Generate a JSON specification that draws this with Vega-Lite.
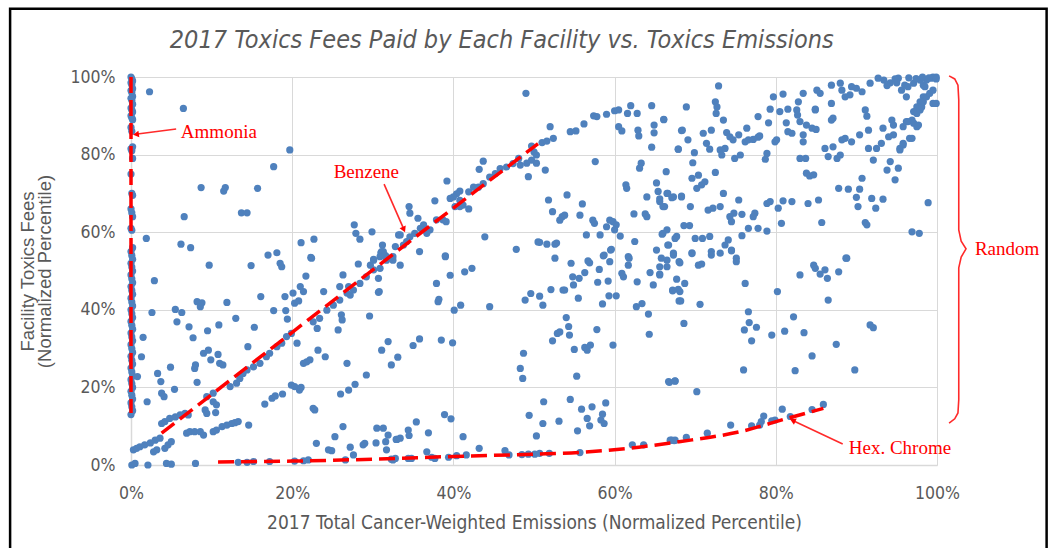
{
"$schema":"https://vega.github.io/schema/vega-lite/v6.json",
"autosize":{"type":"none"},
"width":806,"height":388,
"padding":{"left":131,"top":77,"right":111,"bottom":83},
"background":"white",
"config":{"view":{"stroke":null},"axis":{"gridColor":"#d9d9d9","domainColor":"#d9d9d9","domainWidth":1.5,"ticks":false,"labelFlush":false,"labelColor":"#595959","titleColor":"#595959","labelFont":"'Liberation Sans Narrow', 'DejaVu Sans Condensed', sans-serif","labelFontSize":17.5,"titleFontWeight":"normal"}},
"datasets":{
"pts":[
{"x":0,"y":100},{"x":0.1,"y":99.5},{"x":0.2,"y":99},{"x":0,"y":98.5},{"x":0.1,"y":98},{"x":0.2,"y":97},{"x":0,"y":96.5},{"x":0.1,"y":96},{"x":0.2,"y":95},{"x":0,"y":94.5},{"x":0.1,"y":94},{"x":0.2,"y":93},{"x":0,"y":92},{"x":0.1,"y":91.5},{"x":0.2,"y":91},{"x":0,"y":90},{"x":0.1,"y":89.5},{"x":0.2,"y":89},{"x":0,"y":87},{"x":0.1,"y":86},{"x":0.2,"y":82},{"x":0,"y":81.5},{"x":0.1,"y":81},{"x":0.2,"y":79},{"x":0,"y":75},{"x":0.1,"y":70},{"x":0.2,"y":69.5},{"x":0,"y":66},{"x":0.1,"y":65},{"x":0.2,"y":64},{"x":0,"y":61},{"x":0.1,"y":60.5},{"x":0.2,"y":56},{"x":0,"y":55},{"x":0.1,"y":54},{"x":0.2,"y":53},{"x":0,"y":52},{"x":0.1,"y":51},{"x":0.2,"y":50},{"x":0,"y":49},{"x":0.1,"y":48},{"x":0.2,"y":47},{"x":0,"y":46},{"x":0.1,"y":45},{"x":0.2,"y":44},{"x":0,"y":43},{"x":0.1,"y":42},{"x":0.2,"y":41},{"x":0,"y":40},{"x":0.1,"y":39},{"x":0.2,"y":38},{"x":0,"y":37},{"x":0.1,"y":36},{"x":0.2,"y":35},{"x":0,"y":34},{"x":0.1,"y":33},{"x":0.2,"y":32},{"x":0,"y":31},{"x":0.1,"y":30},{"x":0.2,"y":29},{"x":0,"y":28},{"x":0.1,"y":27},{"x":0.2,"y":26},{"x":0,"y":25},{"x":0.1,"y":24},{"x":0.2,"y":23},{"x":0,"y":22},{"x":0.1,"y":21},{"x":0.2,"y":20},{"x":0,"y":19},{"x":0.1,"y":18},{"x":0.2,"y":17},{"x":0,"y":16},{"x":0.1,"y":15},{"x":0.2,"y":14},{"x":0,"y":13},
{"x":2.3,"y":96.2},{"x":6.5,"y":91.9},{"x":19.7,"y":81.2},{"x":17.7,"y":76.9},{"x":8.7,"y":71.5},{"x":11.5,"y":70.6},{"x":11.7,"y":71.5},{"x":15.7,"y":71.3},{"x":13.7,"y":65},{"x":14.4,"y":65},{"x":6.6,"y":64},{"x":1.9,"y":58.4},{"x":6.2,"y":56.9},{"x":7.4,"y":56},{"x":27.7,"y":61.9},{"x":27.9,"y":59.7},{"x":28.4,"y":58.2},{"x":29.9,"y":60.1},{"x":21.1,"y":57.3},{"x":22.7,"y":58.2},{"x":31.2,"y":56.7},{"x":31,"y":54.7},{"x":31.5,"y":54.1},{"x":33.2,"y":59.3},{"x":17,"y":54.1},{"x":18.1,"y":54.7},{"x":22.3,"y":53.5},{"x":30.1,"y":53},
{"x":18.5,"y":52},{"x":18.7,"y":51.1},{"x":9.7,"y":51.5},{"x":14.9,"y":51.4},{"x":22.4,"y":53.3},{"x":2.9,"y":47.5},{"x":21,"y":46},{"x":21.4,"y":44.7},{"x":21.7,"y":48.7},{"x":20.1,"y":44.3},{"x":20.3,"y":41.7},{"x":20.8,"y":42.3},{"x":23.9,"y":44.7},{"x":25.9,"y":46},{"x":26.3,"y":49},{"x":27,"y":46},{"x":27.2,"y":43.8},{"x":28.2,"y":51.8},{"x":29.7,"y":51.5},{"x":30.1,"y":52.8},{"x":30.7,"y":48.1},{"x":30.8,"y":44.7},{"x":31.1,"y":55},{"x":31.7,"y":53.7},{"x":32.5,"y":52.8},{"x":33.4,"y":51.5},{"x":2.6,"y":39.3},{"x":5.5,"y":40.1},{"x":5.7,"y":36.9},{"x":6.3,"y":39.3},{"x":7.2,"y":35.6},{"x":7.7,"y":32.8},{"x":1.5,"y":32.9},{"x":1.3,"y":27.9},{"x":0.8,"y":22.8},{"x":2,"y":16.3},{"x":3.3,"y":23.6},{"x":3.7,"y":21.5},{"x":3.8,"y":18.5},{"x":4.1,"y":17.6},{"x":4.9,"y":25.2},{"x":5.4,"y":19.5},{"x":8.2,"y":42.1},{"x":8.6,"y":40.8},{"x":8.8,"y":41.8},{"x":8,"y":25.8},{"x":7.9,"y":24.9},{"x":8.2,"y":21.3},{"x":9.5,"y":34.6},{"x":9,"y":28.8},{"x":9.6,"y":29.6},{"x":9.9,"y":27.1},{"x":10.8,"y":28.5},{"x":11,"y":26.2},{"x":11.4,"y":25.8},{"x":10.9,"y":36.1},{"x":11.9,"y":41.9},{"x":13,"y":37.8},{"x":14.5,"y":30.5},{"x":15.3,"y":35.5},{"x":16.1,"y":43.4},{"x":17.7,"y":39.8},{"x":19.1,"y":43.4},{"x":19.2,"y":39.8},{"x":19.4,"y":37.6},{"x":20.6,"y":31.4},{"x":23.2,"y":29.6},{"x":24.1,"y":27.9},{"x":21.4,"y":26.2},{"x":21.8,"y":26.6},{"x":22.2,"y":27.1},{"x":23.1,"y":35.2},{"x":25.7,"y":34.8},{"x":26.1,"y":38.7},{"x":26.2,"y":37.4},{"x":26.8,"y":26.2},{"x":29.6,"y":38.4},{"x":30.7,"y":44.5},{"x":31.1,"y":29.6},{"x":31.9,"y":31.8},{"x":32.3,"y":25.8},{"x":33.1,"y":27.8},{"x":29.2,"y":23.2},{"x":26,"y":18.3},{"x":27,"y":19.3},{"x":27.8,"y":20.8},{"x":19.9,"y":20.6},{"x":20.3,"y":20.2},{"x":20.9,"y":19.3},{"x":21.1,"y":20},{"x":22.6,"y":14.6},{"x":22.8,"y":14.2},{"x":16.6,"y":15.7},{"x":17.5,"y":17.2},{"x":17.9,"y":17.8},{"x":18.8,"y":18.3},
{"x":0.3,"y":3.9},{"x":0.7,"y":4.3},{"x":1.1,"y":4.7},{"x":1.7,"y":5.2},{"x":2.4,"y":5.7},{"x":3,"y":6.4},{"x":3.6,"y":6.9},{"x":3.8,"y":10.7},{"x":4.2,"y":11.2},{"x":4.8,"y":12},{"x":5.5,"y":12.4},{"x":6.1,"y":12.9},{"x":6.7,"y":13.3},{"x":7.1,"y":12.9},{"x":2.8,"y":3.4},{"x":3.2,"y":3.9},{"x":4.2,"y":4.3},{"x":4.6,"y":5.2},{"x":5,"y":6},{"x":6.9,"y":8.2},{"x":7.3,"y":8.6},{"x":7.9,"y":8.6},{"x":8.6,"y":8.6},{"x":9,"y":7.7},{"x":10.2,"y":8.6},{"x":10.6,"y":9},{"x":11.3,"y":9.9},{"x":11.9,"y":10.3},{"x":12.5,"y":10.7},{"x":12.9,"y":10.9},{"x":13.3,"y":11.2},{"x":14.6,"y":10.3},{"x":9.2,"y":14.2},{"x":9.4,"y":13.3},{"x":10.2,"y":16.3},{"x":10.6,"y":15.5},{"x":10.5,"y":13.5},
{"x":9.4,"y":17.6},{"x":10.2,"y":18.5},{"x":12.3,"y":20.2},{"x":13.1,"y":21.1},{"x":13.5,"y":22.3},{"x":13.9,"y":23.6},{"x":14.4,"y":24.5},{"x":15.2,"y":25.3},{"x":16,"y":26.2},{"x":16.8,"y":27.9},{"x":17.2,"y":28.8},{"x":18.1,"y":30.5},{"x":18.7,"y":31.4},{"x":19.3,"y":33.1},{"x":19.9,"y":33.9},{"x":22.6,"y":36.9},{"x":23.4,"y":37.8},{"x":24.3,"y":39.9},{"x":25.1,"y":41.2},{"x":25.9,"y":42.5},{"x":26.8,"y":44.3},{"x":27.6,"y":45.1},{"x":28.4,"y":46.8},{"x":29.2,"y":48.5},{"x":30.1,"y":50.3},{"x":30.9,"y":50.7},{"x":31.7,"y":52.8},{"x":32.5,"y":53.7},
{"x":0.1,"y":0},{"x":0.5,"y":0.4},{"x":2.1,"y":0},{"x":4.4,"y":0.4},{"x":5,"y":0.2},{"x":8,"y":0.4},{"x":13.3,"y":0.7},{"x":14.4,"y":0.7},{"x":15.2,"y":0.9},{"x":17.2,"y":0.9},{"x":20.3,"y":1},{"x":21.4,"y":1.1},{"x":22,"y":1.3},{"x":26.6,"y":1.3},{"x":32.5,"y":1.3},{"x":23,"y":5.6},{"x":24.5,"y":3.9},{"x":24.9,"y":3.7},{"x":25.3,"y":7.3},{"x":26.3,"y":9.9},{"x":27.2,"y":4.6},{"x":27.6,"y":2.6},{"x":28.8,"y":5.2},{"x":29,"y":5.6},{"x":30.4,"y":5.7},{"x":30.5,"y":9.5},{"x":31.3,"y":9.5},{"x":31.6,"y":6},{"x":31.7,"y":3.9},{"x":31.9,"y":7.7},{"x":33,"y":6.6},
{"x":49,"y":95.8},{"x":52,"y":87.2},{"x":54.5,"y":85.9},{"x":55.2,"y":86.1},{"x":56.2,"y":87.9},{"x":57.4,"y":90},{"x":57.8,"y":89.8},{"x":59,"y":90.4},{"x":60,"y":91.3},{"x":60.5,"y":91.5},{"x":61.6,"y":90.6},{"x":62,"y":92.6},{"x":62.8,"y":90.6},{"x":64.6,"y":92.6},{"x":64.9,"y":87.6},{"x":66.1,"y":89},{"x":67.9,"y":81.4},{"x":68.3,"y":86.2},{"x":60.5,"y":87.2},{"x":60.9,"y":86.1},{"x":62.9,"y":86.3},{"x":63,"y":84.8},{"x":64.9,"y":85.6},{"x":64.6,"y":81.9},{"x":51,"y":83.1},{"x":51.6,"y":83.5},{"x":52.4,"y":84.2},{"x":49.7,"y":82.2},{"x":50,"y":80.7},{"x":50.3,"y":79.9},{"x":49.7,"y":78.6},{"x":49.1,"y":77.8},{"x":50.3,"y":77.8},{"x":51.4,"y":76},{"x":49.3,"y":74.3},{"x":57.6,"y":78.2},
{"x":48.1,"y":79},{"x":48.3,"y":77.3},{"x":47.4,"y":77.7},{"x":46.6,"y":76.8},{"x":45.8,"y":76.4},{"x":45.2,"y":75.1},{"x":44.5,"y":74.2},{"x":43.7,"y":78.3},{"x":43.2,"y":76.2},{"x":43.7,"y":72.5},{"x":43.1,"y":71.6},{"x":42.5,"y":71.6},{"x":41.9,"y":70.4},{"x":40.8,"y":70.6},{"x":40.4,"y":69.9},{"x":40,"y":69.1},{"x":39.2,"y":73.2},{"x":39.6,"y":68.7},{"x":40.2,"y":66.6},{"x":40.8,"y":66.6},{"x":41.2,"y":67},{"x":41.9,"y":66},{"x":40.8,"y":68.2},
{"x":37.7,"y":68.1},{"x":34.5,"y":66.6},{"x":34.6,"y":64.9},{"x":35.6,"y":63.6},{"x":36.3,"y":61.9},{"x":37.1,"y":60.6},{"x":37.9,"y":63.2},{"x":38.7,"y":63.2},{"x":39.1,"y":62.7},{"x":36.7,"y":59.7},{"x":35.2,"y":59.7},{"x":35.9,"y":61},{"x":33.4,"y":59.3},{"x":34.2,"y":57.6},{"x":34.6,"y":58.8},{"x":33.8,"y":56.7},{"x":32.8,"y":56.3},{"x":31.3,"y":55},{"x":30.9,"y":53.7},{"x":35.8,"y":55},{"x":39,"y":53.9},{"x":43.9,"y":58.8},{"x":47.8,"y":55.6},{"x":50.5,"y":57.5},{"x":51.6,"y":56.9},{"x":52.6,"y":56.9},{"x":52.8,"y":57.2},
{"x":51.8,"y":68.3},{"x":52.3,"y":65.3},{"x":53.2,"y":63.1},{"x":53.5,"y":64},{"x":53.8,"y":64.4},{"x":54.1,"y":69.6},{"x":56,"y":67.3},{"x":55.7,"y":64.4},{"x":56.5,"y":59.3},{"x":57.3,"y":63.1},{"x":57.5,"y":62.3},{"x":58.2,"y":59.3},{"x":59.4,"y":63.1},{"x":59.8,"y":62.7},{"x":60.2,"y":61.9},{"x":60,"y":60.6},{"x":60.7,"y":59},{"x":59,"y":61.4},{"x":61.7,"y":53.7},{"x":62.5,"y":57.6},{"x":62.4,"y":64.7},{"x":64,"y":64},{"x":63.8,"y":64.7},{"x":64,"y":69.1},{"x":61.4,"y":72.2},{"x":61.5,"y":71.3},{"x":63.3,"y":77.8},{"x":63.1,"y":76.5},{"x":65.2,"y":72.7},{"x":65.4,"y":70.5},{"x":65.6,"y":67.9},{"x":66.2,"y":66.6},{"x":66.4,"y":75.6},{"x":66.6,"y":70},{"x":67.3,"y":69.1},{"x":68.3,"y":69.1},{"x":65.9,"y":59.5},{"x":65.2,"y":55.4},{"x":66.6,"y":56.7},{"x":67.3,"y":54.6},{"x":67.7,"y":58.9},{"x":59.6,"y":55.6},{"x":58.6,"y":53.9},{"x":56.7,"y":52.6},{"x":50.7,"y":57.4},
{"x":39,"y":53.7},{"x":39.6,"y":48.9},{"x":41.4,"y":49.8},{"x":42.3,"y":50.7},{"x":37.9,"y":46.8},{"x":38.2,"y":42.7},{"x":38.1,"y":42.1},{"x":40.1,"y":39.9},{"x":40.9,"y":41.2},{"x":44.5,"y":40.8},
{"x":52.6,"y":53.3},{"x":54.6,"y":52},{"x":56.9,"y":52.1},{"x":58.1,"y":50.4},{"x":58.7,"y":54.1},{"x":59.4,"y":52.4},{"x":59.5,"y":55.4},{"x":61.8,"y":53.3},{"x":61.7,"y":51.5},{"x":60.9,"y":49.4},{"x":61.1,"y":48.5},{"x":62.8,"y":47.2},{"x":64.4,"y":49.6},{"x":64.8,"y":46.4},{"x":65.6,"y":49.2},{"x":66.5,"y":51.1},{"x":67.3,"y":54.1},{"x":68,"y":52.4},{"x":67.7,"y":47.9},{"x":67.2,"y":45.1},{"x":68.1,"y":44.7},{"x":68,"y":42.3},
{"x":54.8,"y":48.5},{"x":54.9,"y":46.4},{"x":55.6,"y":48.1},{"x":56.3,"y":49.6},{"x":53.8,"y":45.1},{"x":53.6,"y":45.1},{"x":52.1,"y":45.2},{"x":50.7,"y":43.5},{"x":51.1,"y":41.2},{"x":49.6,"y":44.2},{"x":48.9,"y":42.5},{"x":55.5,"y":43},{"x":57.9,"y":47.1},{"x":59.2,"y":47.4},{"x":58.5,"y":41.5},{"x":59.3,"y":43.6},{"x":60.2,"y":43.6},{"x":62.7,"y":40.8},{"x":63.4,"y":41.6},{"x":64.2,"y":38.9},{"x":64.3,"y":33.7},
{"x":54,"y":38},{"x":54.3,"y":35.7},{"x":53.2,"y":34.3},{"x":52.9,"y":33.9},{"x":52.3,"y":32},{"x":54.4,"y":33.5},{"x":55,"y":29.8},{"x":56.3,"y":30.3},{"x":56.6,"y":29.6},{"x":57,"y":30.9},{"x":57.8,"y":34.9},{"x":59.8,"y":30.9},{"x":48.7,"y":28.8},{"x":48.3,"y":24.9},{"x":48.6,"y":22.3},{"x":55.3,"y":22.9},{"x":35,"y":30.8},{"x":35.8,"y":32.5},{"x":38.5,"y":32.2},{"x":39.9,"y":31.5},{"x":66.7,"y":21.5},{"x":67.5,"y":21.7},
{"x":32.9,"y":6.6},{"x":33.4,"y":6.9},{"x":34.4,"y":9},{"x":34.5,"y":7.6},{"x":35.4,"y":11.1},{"x":36.9,"y":8.3},{"x":38.9,"y":13},{"x":39.7,"y":11.9},{"x":41.2,"y":7.3},{"x":43.2,"y":4.3},{"x":36.7,"y":3.4},{"x":37.3,"y":2},{"x":37.7,"y":1.7},{"x":39.4,"y":2},{"x":40.4,"y":2.4},{"x":41.6,"y":2.6},{"x":32.3,"y":1.5},{"x":32.8,"y":1.7},{"x":34.4,"y":1.7},{"x":34.8,"y":1.7},{"x":46.4,"y":3.7},{"x":46.9,"y":2.6},{"x":48.5,"y":2.7},{"x":49.3,"y":2.8},{"x":50.1,"y":2.8},{"x":50.7,"y":3},{"x":51.9,"y":3},{"x":49.4,"y":12.8},{"x":50.3,"y":7.5},{"x":51.1,"y":10.7},{"x":51.2,"y":16.3},{"x":53.1,"y":11.3},{"x":54.5,"y":16.9},{"x":55.4,"y":8.8},{"x":55.9,"y":14.4},{"x":56.6,"y":12},{"x":56.9,"y":10.1},{"x":57.2,"y":15},{"x":58.3,"y":11.6},{"x":58.5,"y":13.1},{"x":58.7,"y":10.7},{"x":58.9,"y":16},{"x":55.7,"y":3.2},{"x":62.2,"y":5.2},{"x":63.6,"y":5.2},{"x":66.9,"y":6.4},{"x":67.5,"y":6.4},
{"x":72.9,"y":97.7},{"x":68.9,"y":92.3},{"x":66.1,"y":89.1},{"x":72.5,"y":93.6},{"x":72.7,"y":92.3},{"x":72.6,"y":90.6},{"x":73.5,"y":88.9},{"x":68.4,"y":86.3},{"x":69.1,"y":83.8},{"x":67.9,"y":81.4},{"x":69.9,"y":80.5},{"x":69.7,"y":77.9},{"x":69.6,"y":73.9},{"x":70.4,"y":74.7},{"x":70.2,"y":71.3},{"x":70.8,"y":72.2},{"x":71.2,"y":73},{"x":72.5,"y":75.4},{"x":73.5,"y":70},{"x":68.3,"y":69.3},{"x":66.5,"y":70},{"x":67.1,"y":68.9},{"x":65.6,"y":68.6},{"x":66,"y":66.6},{"x":69.4,"y":66.6},
{"x":71,"y":85.5},{"x":72,"y":86.3},{"x":71.4,"y":82.9},{"x":71.8,"y":81.4},{"x":73.1,"y":81.2},{"x":73.7,"y":81.6},{"x":73.3,"y":79.9},{"x":73.9,"y":85.7},{"x":74.3,"y":84.6},{"x":75.4,"y":85.1},{"x":74.7,"y":83.8},{"x":74.9,"y":79},{"x":75.6,"y":79.9},{"x":76.2,"y":83.3},{"x":76.6,"y":83.8},{"x":77.2,"y":83.9},{"x":77.8,"y":84.5},{"x":78,"y":84.8},{"x":76.4,"y":86.8},{"x":77.8,"y":89.8},{"x":79.1,"y":88.2},{"x":79.3,"y":91.7},{"x":79.9,"y":83.3},{"x":80.1,"y":83.8},{"x":78.9,"y":80.3},{"x":78.7,"y":78.8},{"x":79.7,"y":94.9},{"x":80.9,"y":95.6},{"x":80.5,"y":91.1},{"x":81.3,"y":88.2},{"x":81.5,"y":85.9},{"x":82,"y":85.5},{"x":81.5,"y":91.7},{"x":82.6,"y":91.5},{"x":82.7,"y":90.2},{"x":83,"y":88.5},{"x":83.4,"y":95.8},{"x":82.8,"y":93.6},{"x":83.8,"y":87.6},{"x":84.5,"y":86.8},{"x":85,"y":86.5},{"x":84.9,"y":91.7},{"x":85.1,"y":96.6},{"x":85.5,"y":95.8},{"x":86.9,"y":97.9},{"x":88,"y":98.4},{"x":88.2,"y":96.6},{"x":88.6,"y":94.9},{"x":89.2,"y":95.4},{"x":89.4,"y":97.5},{"x":90,"y":97.1},{"x":90.7,"y":96.2},{"x":91.7,"y":98.4},{"x":92.7,"y":99.7},{"x":93.4,"y":99.2},{"x":94.2,"y":98.5},{"x":95.2,"y":99.7},{"x":95.6,"y":96.6},{"x":96,"y":97.9},{"x":96.4,"y":97.5},{"x":96.2,"y":94.9},{"x":97.1,"y":98.4},{"x":97.9,"y":99.2},{"x":98.3,"y":97.9},{"x":98.7,"y":99.2},{"x":99.3,"y":99.7},{"x":99.9,"y":100},{"x":99.5,"y":93.2},{"x":98.3,"y":94.9},{"x":97.9,"y":93.6},{"x":97.5,"y":92.3},{"x":97.1,"y":91.1},{"x":96.9,"y":88.9},{"x":97.5,"y":87.2},{"x":96.4,"y":88.5},{"x":95.8,"y":87.2},{"x":94.6,"y":87.6},{"x":94.4,"y":88.9},{"x":93.3,"y":86.8},{"x":93.1,"y":82.9},{"x":92.5,"y":81.6},{"x":92.1,"y":78.6},{"x":93.8,"y":76},{"x":94.2,"y":78.2},{"x":94.8,"y":73.5},{"x":95.2,"y":76.5},{"x":95.4,"y":81.6},{"x":95.8,"y":82.9},{"x":96.6,"y":84.2},{"x":94.6,"y":85.1},{"x":94,"y":84.6},{"x":91.1,"y":91.5},{"x":91.3,"y":89.9},{"x":91.5,"y":86.3},{"x":90.4,"y":85.1},{"x":91.5,"y":81.6},{"x":89.4,"y":83.3},{"x":88.6,"y":84.2},{"x":88.2,"y":83.8},{"x":87.1,"y":82},{"x":86.1,"y":81.6},{"x":86.5,"y":79.5},{"x":87.6,"y":79},{"x":88,"y":79.9},{"x":86.9,"y":88.9},{"x":87.1,"y":89.4},{"x":86.9,"y":93.2},{"x":84.9,"y":91.5},{"x":83.4,"y":85.1},{"x":83.4,"y":83.3},{"x":83,"y":79},{"x":83.7,"y":79},{"x":83.8,"y":75.2},{"x":84.2,"y":74.5},{"x":84.7,"y":74.8},{"x":90.7,"y":73.9},{"x":90.4,"y":71.1},{"x":89,"y":71.1},{"x":87.8,"y":71.3},{"x":90,"y":69},{"x":90.2,"y":66.6},{"x":91.9,"y":68.7},{"x":92.4,"y":66.2},{"x":93.3,"y":68.5},{"x":91.1,"y":62.5},{"x":91.3,"y":61.9},{"x":96.9,"y":60.1},{"x":97.8,"y":59.7},{"x":98.9,"y":67.6},{"x":88.8,"y":53.3},{"x":85.7,"y":62.5},{"x":85.3,"y":68.3},{"x":84,"y":67.4},{"x":82,"y":67.9},{"x":80.9,"y":68.1},{"x":80.3,"y":66.2},{"x":80.7,"y":62.3},{"x":78.9,"y":67.4},{"x":79.3,"y":67.9},{"x":77.8,"y":61},{"x":78.9,"y":60.3},{"x":77.4,"y":64.9},{"x":77.2,"y":64},{"x":76.6,"y":61},{"x":75.8,"y":59.1},{"x":75.4,"y":68.3},{"x":74.8,"y":64.9},{"x":74.3,"y":64},{"x":74.5,"y":62.7},{"x":75.8,"y":64.6},{"x":72.2,"y":66.2},{"x":73.1,"y":66.6},{"x":71.6,"y":65.7},{"x":68.6,"y":61.7},{"x":69.3,"y":61.7},{"x":70,"y":58.4},{"x":70.9,"y":58.4},{"x":71.8,"y":58.9},{"x":66.5,"y":60.6},{"x":66,"y":59.7},{"x":66.7,"y":56.7},{"x":67.5,"y":58.4},{"x":69.6,"y":54.7},{"x":72,"y":55},{"x":73.1,"y":54.6},{"x":73.7,"y":56.7},{"x":74.1,"y":58},{"x":74.5,"y":55.4},{"x":75.1,"y":53.3},{"x":65.8,"y":53.3},
{"x":65.6,"y":51.1},{"x":66.5,"y":52.8},{"x":68.1,"y":52.1},{"x":69.6,"y":54.5},{"x":70.4,"y":51.5},{"x":70.8,"y":51.8},{"x":72,"y":54.1},{"x":74.5,"y":55.2},{"x":75.1,"y":52.4},{"x":65.6,"y":49},{"x":68.7,"y":46.8},{"x":67.9,"y":45.3},{"x":67.2,"y":44.9},{"x":68.2,"y":42.3},{"x":70.6,"y":41.4},{"x":68.6,"y":36.5},{"x":76.2,"y":46.8},{"x":76.6,"y":39.5},{"x":76.7,"y":36.7},{"x":76.1,"y":34.8},{"x":77,"y":32},{"x":77.6,"y":35.5},{"x":79.5,"y":33.5},{"x":80.2,"y":44.7},{"x":81.1,"y":34.5},{"x":82.2,"y":38.2},{"x":83,"y":49},{"x":83.5,"y":34.1},{"x":84.5,"y":28.1},{"x":82.4,"y":24.3},{"x":76,"y":24.5},{"x":84.7,"y":51.5},{"x":84.9,"y":50.7},{"x":85.5,"y":49.2},{"x":86.1,"y":50.3},{"x":86.4,"y":48.1},{"x":87.8,"y":49.8},{"x":88.7,"y":53.3},{"x":86.5,"y":42.5},{"x":87.5,"y":31.1},{"x":89.8,"y":24.5},{"x":91.7,"y":36.1},{"x":92.1,"y":35.4},{"x":66.8,"y":21.3},{"x":67.5,"y":21.6},{"x":70.2,"y":18.9},
{"x":74.4,"y":10.3},{"x":77,"y":10.1},{"x":78.2,"y":11.2},{"x":78.5,"y":12.6},{"x":78,"y":10.3},{"x":79.5,"y":11.4},{"x":79.9,"y":11.6},{"x":80.8,"y":14.4},{"x":81.8,"y":12.5},{"x":84.5,"y":14.3},{"x":85.9,"y":15.6},{"x":67.1,"y":6.4},{"x":67.4,"y":6.3},{"x":68.9,"y":7.1},{"x":71.5,"y":8.2},
{"x":96.2,"y":88.5},{"x":97.1,"y":88.1},{"x":97.7,"y":87.6},{"x":96.9,"y":84.2},{"x":95.8,"y":82.5},{"x":95.4,"y":81.2},{"x":97.5,"y":90.6},{"x":97.9,"y":91.5},{"x":98.1,"y":92.3},{"x":98.3,"y":93.6},{"x":98.7,"y":94.9},{"x":99.1,"y":95.8},{"x":99.5,"y":96.6},{"x":99.9,"y":93.2},{"x":98.5,"y":97.5},{"x":99.5,"y":100},{"x":99.9,"y":99.5},{"x":94.8,"y":99.5},{"x":96.5,"y":99.8},{"x":97.4,"y":99.6},{"x":98.2,"y":100},{"x":99,"y":99.8},{"x":93.8,"y":97.8},{"x":95,"y":98.5}
],
"dash":[
{"s":"amm","o":1,"x":0,"y":100},{"s":"amm","o":2,"x":0,"y":13.4},
{"s":"ben","o":1,"x":3.8,"y":8.2},{"s":"ben","o":2,"x":20,"y":34.2},{"s":"ben","o":3,"x":35,"y":58.3},{"s":"ben","o":4,"x":50.5,"y":82.8},
{"s":"hex","o":1,"x":10.8,"y":0.8},{"s":"hex","o":2,"x":20,"y":1},{"s":"hex","o":3,"x":30,"y":1.5},{"s":"hex","o":4,"x":40,"y":2.2},{"s":"hex","o":5,"x":50,"y":2.8},{"s":"hex","o":6,"x":56,"y":3.3},{"s":"hex","o":7,"x":63,"y":4.6},{"s":"hex","o":8,"x":68,"y":6},{"s":"hex","o":9,"x":75.6,"y":8.6},{"s":"hex","o":10,"x":81.4,"y":12},{"s":"hex","o":11,"x":85.9,"y":14.6}
],
"thin":[
{"s":"a","o":1,"x":5.6,"y":86.6},{"s":"a","o":2,"x":0.8,"y":85.3},
{"s":"b","o":1,"x":31.4,"y":72.4},{"s":"b","o":2,"x":33.8,"y":61},
{"s":"h","o":1,"x":88.3,"y":5.4},{"s":"h","o":2,"x":82.3,"y":11.3},
{"s":"r","o":1,"x":101.5,"y":100.3},{"s":"r","o":2,"x":102.2,"y":99.5},{"s":"r","o":3,"x":102.6,"y":97.9},{"s":"r","o":4,"x":102.7,"y":94.1},{"s":"r","o":5,"x":102.7,"y":60.6},{"s":"r","o":6,"x":103,"y":57.7},{"s":"r","o":7,"x":103.6,"y":55.7},{"s":"r","o":8,"x":103,"y":53.6},{"s":"r","o":9,"x":102.7,"y":50.8},{"s":"r","o":10,"x":102.7,"y":16.8},{"s":"r","o":11,"x":102.6,"y":13.4},{"s":"r","o":12,"x":102.2,"y":11.9},{"s":"r","o":13,"x":101.5,"y":10.8}
],
"heads":[
{"x":0.62,"y":85.2,"a":352,"sh":"triangle-left"},
{"x":33.85,"y":60.7,"a":336,"sh":"triangle-down"},
{"x":82.1,"y":11.5,"a":25,"sh":"triangle-left"}
],
"labels":[
{"t":"Ammonia","x":10.9,"y":85.8},
{"t":"Benzene","x":29.2,"y":75.5},
{"t":"Random","x":108.7,"y":55.7},
{"t":"Hex. Chrome","x":95.4,"y":4.4}
],
"ttl":[{"t":"2017 Toxics Fees Paid by Each Facility vs. Toxics Emissions","x":46.0,"y":109.5}],
"frame":[{"x1":-15.0,"x2":113.6,"y1":117.6,"y2":-25}]
},
"layer":[
{"data":{"name":"frame"},"mark":{"type":"rect","fill":null,"stroke":"black","strokeWidth":2.5},
 "encoding":{"x":{"field":"x1","type":"quantitative","scale":{"domain":[0,100],"nice":false,"zero":false},
   "axis":{"title":"2017 Total Cancer-Weighted Emissions (Normalized Percentile)","values":[0,20,40,60,80,100],"labelExpr":"datum.value + '%'","labelPadding":19,"titlePadding":12,"titleFont":"'Liberation Sans Narrow', 'DejaVu Sans Condensed', sans-serif","titleFontSize":19,"grid":true}},
  "x2":{"field":"x2"},
  "y":{"field":"y1","type":"quantitative","scale":{"domain":[0,100],"nice":false,"zero":false},
   "axis":{"title":["Facility Toxics Fees","(Normalized Percentile)"],"values":[0,10,20,30,40,50,60,70,80,90,100],"labelExpr":"datum.value + '%'","labelPadding":16,"titlePadding":15,"titleFont":"'Liberation Sans', sans-serif","titleFontSize":18.5,"titleLineHeight":17,"grid":true}},
  "y2":{"field":"y2"}}},
{"data":{"name":"pts"},"mark":{"type":"point","filled":true,"size":52,"color":"#4f81bd","opacity":1},
 "encoding":{"x":{"field":"x","type":"quantitative"},"y":{"field":"y","type":"quantitative"}}},
{"data":{"name":"dash"},"mark":{"type":"line","color":"#ff0000","strokeWidth":3.5,"strokeDash":[16,7],"interpolate":"monotone"},
 "encoding":{"x":{"field":"x","type":"quantitative"},"y":{"field":"y","type":"quantitative"},"detail":{"field":"s"},"order":{"field":"o"}}},
{"data":{"name":"thin"},"mark":{"type":"line","color":"#ff2a2a","strokeWidth":1.6},
 "encoding":{"x":{"field":"x","type":"quantitative"},"y":{"field":"y","type":"quantitative"},"detail":{"field":"s"},"order":{"field":"o"}}},
{"data":{"name":"heads"},"mark":{"type":"point","filled":true,"color":"#ff0000","size":45,"opacity":1},
 "encoding":{"x":{"field":"x","type":"quantitative"},"y":{"field":"y","type":"quantitative"},"angle":{"field":"a","type":"quantitative","scale":null},"shape":{"field":"sh","type":"nominal","scale":null}}},
{"data":{"name":"labels"},"mark":{"type":"text","color":"#ff0000","font":"'Liberation Serif', serif","fontSize":19,"baseline":"middle","align":"center"},
 "encoding":{"x":{"field":"x","type":"quantitative"},"y":{"field":"y","type":"quantitative"},"text":{"field":"t"}}},
{"data":{"name":"ttl"},"mark":{"type":"text","color":"#595959","font":"'Liberation Sans Narrow', 'DejaVu Sans Condensed', sans-serif","fontSize":25,"fontStyle":"italic","baseline":"middle","align":"center"},
 "encoding":{"x":{"field":"x","type":"quantitative"},"y":{"field":"y","type":"quantitative"},"text":{"field":"t"}}}
]
}
